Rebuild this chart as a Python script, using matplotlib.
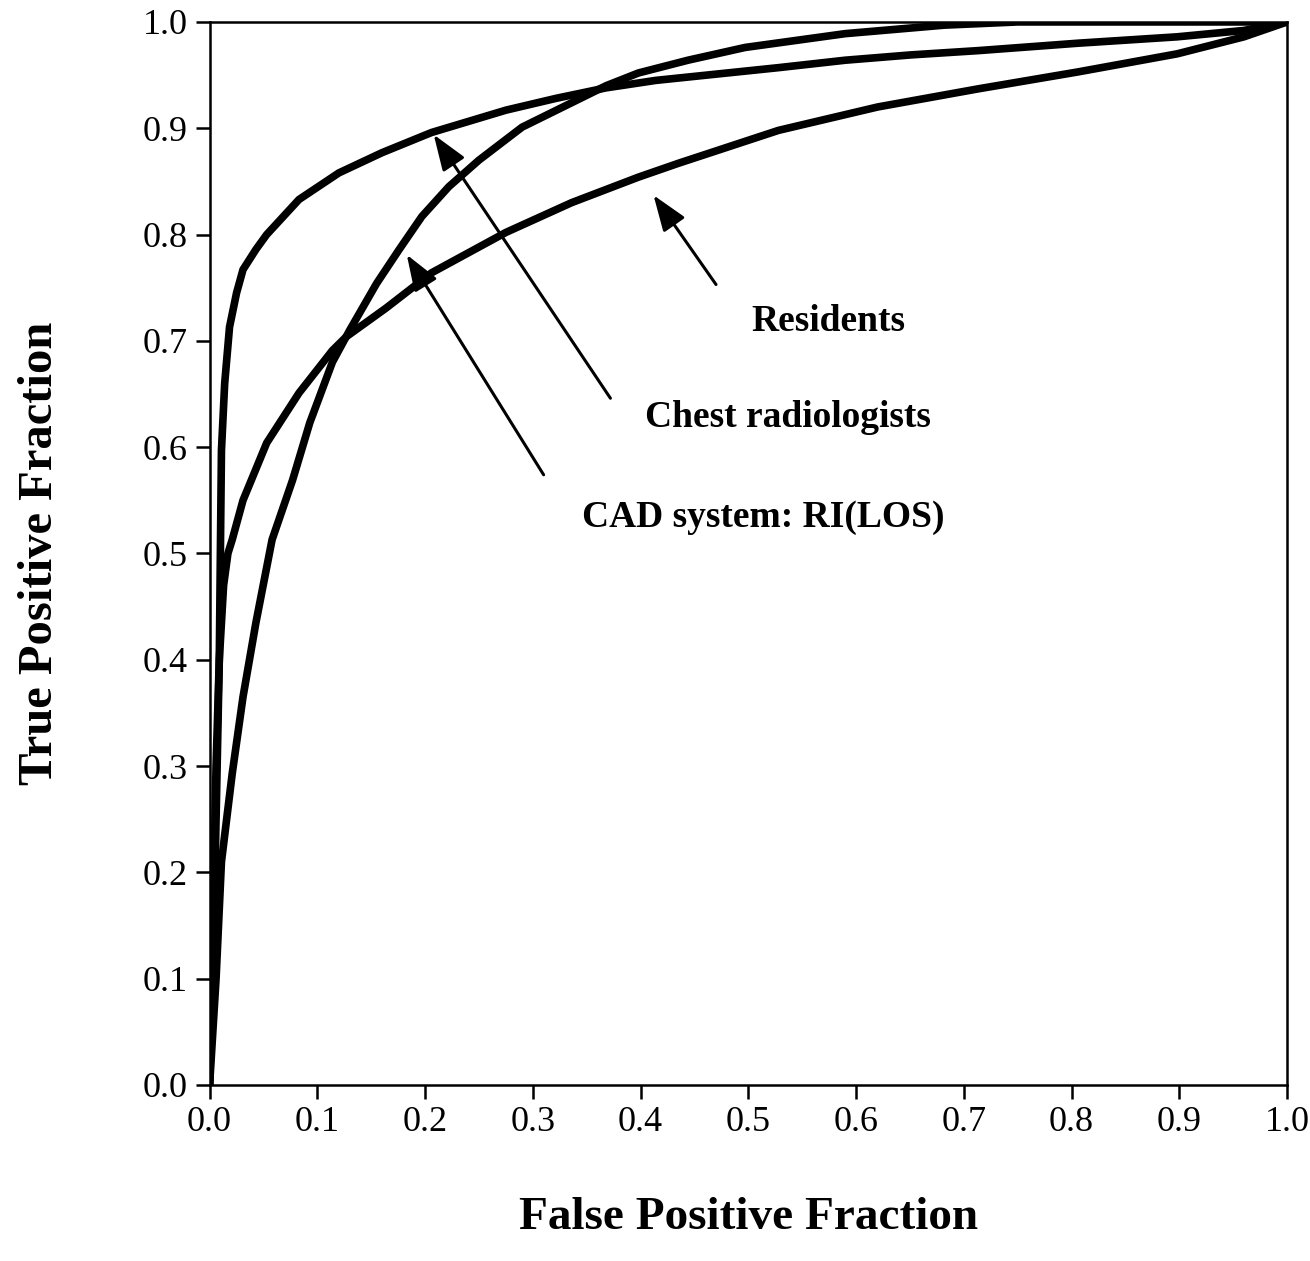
import matplotlib
matplotlib.use("Agg")
import matplotlib.pyplot as plt
import numpy as np

plt.rcParams['font.family'] = ['Liberation Serif', 'DejaVu Serif']

# ROC curves (false positive fraction, true positive fraction)
chest_fpf = [0.0, 0.003, 0.005, 0.007, 0.009, 0.010, 0.011, 0.014, 0.0185, 0.025, 0.031,
             0.043, 0.053, 0.083, 0.12, 0.16, 0.206, 0.275, 0.321, 0.368, 0.414,
             0.528, 0.59, 0.651, 0.713, 0.806, 0.898, 0.96, 1.0]
chest_tpf = [0.0, 0.1, 0.2, 0.3, 0.4, 0.5, 0.597, 0.66, 0.713, 0.745, 0.767,
             0.786, 0.8, 0.833, 0.858, 0.877, 0.896, 0.917, 0.928, 0.938, 0.945,
             0.957, 0.964, 0.969, 0.973, 0.98, 0.986, 0.992, 1.0]

resid_fpf = [0.0, 0.002, 0.004, 0.006, 0.009, 0.013, 0.017, 0.021, 0.031, 0.053, 0.083,
             0.114, 0.127, 0.164, 0.206, 0.275, 0.336, 0.398, 0.435, 0.528, 0.62,
             0.713, 0.806, 0.898, 0.96, 1.0]
resid_tpf = [0.0, 0.1, 0.2, 0.3, 0.4, 0.47, 0.5, 0.513, 0.55, 0.604, 0.651,
             0.691, 0.704, 0.731, 0.764, 0.802, 0.83, 0.854, 0.867, 0.898, 0.92,
             0.937, 0.953, 0.97, 0.986, 1.0]

cad_fpf = [0.0, 0.006, 0.011, 0.021, 0.031, 0.043, 0.058, 0.077, 0.093, 0.114, 0.13,
           0.155, 0.176, 0.197, 0.222, 0.25, 0.29, 0.336, 0.368, 0.398, 0.444,
           0.497, 0.59, 0.682, 0.75, 1.0]
cad_tpf = [0.0, 0.1, 0.21, 0.293, 0.365, 0.435, 0.513, 0.569, 0.623, 0.68, 0.71,
           0.754, 0.786, 0.817, 0.845, 0.87, 0.901, 0.924, 0.94, 0.952, 0.964,
           0.976, 0.989, 0.997, 1.0, 1.0]

# annotation: label, arrow tip, arrow tail, text position
labels = ['Residents', 'Chest radiologists', 'CAD system: RI(LOS)']
arrow_tips = [(0.412, 0.837), (0.208, 0.894), (0.183, 0.781)]
arrow_tails = [(0.47, 0.753), (0.372, 0.646), (0.31, 0.574)]
text_pos = [(0.574, 0.718), (0.537, 0.628), (0.514, 0.534)]

ticks = np.round(np.arange(0, 1.01, 0.1), 1)

fig = plt.figure(figsize=(13.1, 12.61), dpi=100)
ax = fig.add_axes([0.160, 0.1396, 0.8225, 0.843])

for xs, ys in [(chest_fpf, chest_tpf), (resid_fpf, resid_tpf), (cad_fpf, cad_tpf)]:
    ax.plot(xs, ys, color='black', lw=5.5, solid_capstyle='round', solid_joinstyle='round')

for lab, tip, tail, tp in zip(labels, arrow_tips, arrow_tails, text_pos):
    ax.annotate('', xy=tip, xytext=tail,
                arrowprops=dict(arrowstyle='-|>,head_length=2.2,head_width=0.8',
                                color='black', lw=2.2, shrinkA=0, shrinkB=0))
    ax.text(tp[0], tp[1], lab, fontsize=27, fontweight='bold', ha='center', va='center')

ax.set_xlim(0, 1)
ax.set_ylim(0, 1)
ax.set_xticks(ticks)
ax.set_yticks(ticks)
ax.set_xticklabels([f'{t:.1f}' for t in ticks])
ax.set_yticklabels([f'{t:.1f}' for t in ticks])
ax.tick_params(direction='out', length=10, width=1.8, labelsize=26)
ax.tick_params(axis='x', pad=5)
ax.tick_params(axis='y', pad=6)
for s in ax.spines.values():
    s.set_linewidth(1.8)

ax.set_xlabel('False Positive Fraction', fontsize=34, fontweight='bold', labelpad=42)
ax.set_ylabel('True Positive Fraction', fontsize=35, fontweight='bold', labelpad=58)

fig.savefig('out.png', dpi=100)
